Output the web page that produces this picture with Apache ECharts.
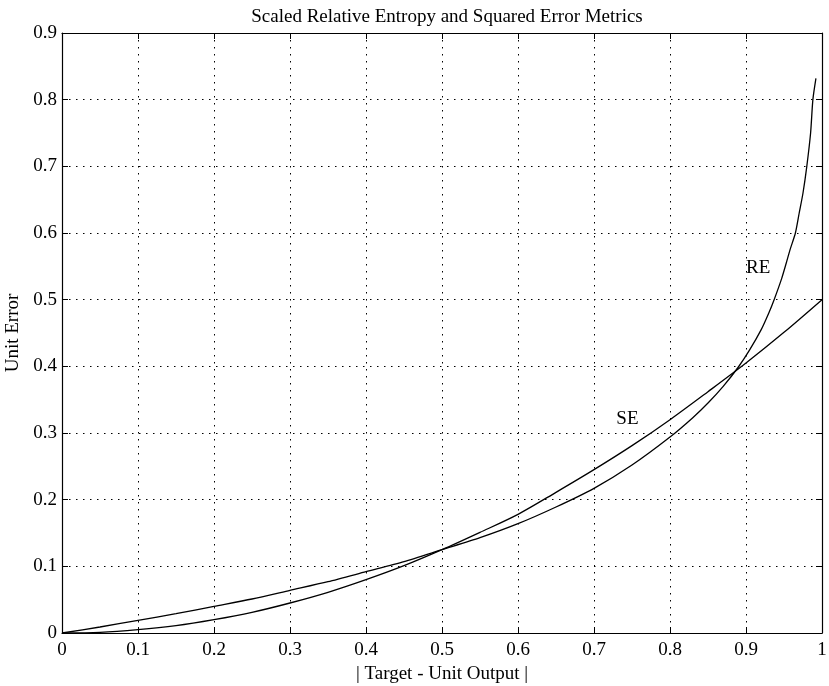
<!DOCTYPE html>
<html>
<head>
<meta charset="utf-8">
<title>Scaled Relative Entropy and Squared Error Metrics</title>
<script src="https://cdn.jsdelivr.net/npm/echarts@6/dist/echarts.min.js"></script>
<style>
  html, body { margin: 0; padding: 0; background: #fff; }
  #chart { width: 829px; height: 686px; }
</style>
</head>
<body>
<div id="chart"></div>
<script>
// values
var reX = [0, 0.05, 0.1, 0.15, 0.2, 0.25, 0.3, 0.35, 0.4, 0.45, 0.5, 0.55, 0.6, 0.65, 0.7, 0.75, 0.8, 0.83, 0.85, 0.87, 0.89, 0.905, 0.92, 0.93, 0.937, 0.947, 0.953, 0.958, 0.965, 0.97, 0.975, 0.98, 0.985, 0.988, 0.992];
var reY = [0, 0.009, 0.019, 0.029, 0.040, 0.051, 0.064, 0.077, 0.092, 0.107, 0.125, 0.143, 0.164, 0.189, 0.217, 0.252, 0.294, 0.323, 0.345, 0.37, 0.399, 0.425, 0.455, 0.48, 0.5, 0.532, 0.555, 0.575, 0.6, 0.63, 0.66, 0.7, 0.75, 0.8, 0.832];

var seX = [0, 0.05, 0.1, 0.15, 0.2, 0.25, 0.3, 0.35, 0.4, 0.45, 0.5, 0.55, 0.6, 0.65, 0.7, 0.75, 0.8, 0.85, 0.9, 0.95, 1];
var seY = [0, 0.001, 0.005, 0.011, 0.020, 0.031, 0.045, 0.061, 0.080, 0.101, 0.125, 0.151, 0.178, 0.211, 0.245, 0.281, 0.320, 0.362, 0.405, 0.451, 0.5];

// curve labels: [x, y, text]
var curveLabels = [
  [0.916, 0.547, 'RE'],
  [0.744, 0.321, 'SE']
];

function pairs(xs, ys) {
  var out = [];
  for (var i = 0; i < xs.length; i++) out.push([xs[i], ys[i]]);
  return out;
}

var font = 'Liberation Serif';
var chart = echarts.init(document.getElementById('chart'));

var gridLine = { show: true, lineStyle: { color: '#000', width: 1, type: [1.5, 5.5] } };
var frameLine = { show: true, onZero: false, lineStyle: { color: '#000', width: 1.2 } };
var tick = { show: true, inside: true, length: 6, lineStyle: { color: '#000', width: 1 } };

chart.setOption({
  backgroundColor: '#fff',
  animation: false,
  title: {
    text: 'Scaled Relative Entropy and Squared Error Metrics',
    left: 442, top: 3, textAlign: 'center',
    textStyle: { fontFamily: font, fontSize: 19, fontWeight: 'normal', color: '#000' }
  },
  grid: { left: 62, right: 7, top: 33, bottom: 53, containLabel: false, outerBoundsMode: 'none' },
  xAxis: [
    {
      type: 'value', min: 0, max: 1, interval: 0.1,
      name: '| Target - Unit Output |', nameLocation: 'middle', nameGap: 27,
      nameTextStyle: { fontFamily: font, fontSize: 19, color: '#000' },
      axisLine: frameLine, axisTick: tick, splitLine: gridLine,
      axisLabel: { fontFamily: font, fontSize: 19, color: '#000', margin: 8 }
    },
    {
      type: 'value', min: 0, max: 1, interval: 0.1, position: 'top',
      axisLine: frameLine, axisTick: tick, splitLine: { show: false },
      axisLabel: { show: false }
    }
  ],
  yAxis: [
    {
      type: 'value', min: 0, max: 0.9, interval: 0.1,
      name: 'Unit Error', nameLocation: 'middle', nameGap: 38,
      nameTextStyle: { fontFamily: font, fontSize: 19, color: '#000' },
      axisLine: frameLine, axisTick: tick, splitLine: gridLine,
      axisLabel: { fontFamily: font, fontSize: 19, color: '#000', margin: 5 }
    },
    {
      type: 'value', min: 0, max: 0.9, interval: 0.1, position: 'right',
      axisLine: frameLine, axisTick: tick, splitLine: { show: false },
      axisLabel: { show: false }
    }
  ],
  series: [
    {
      name: 'RE', type: 'line', data: pairs(reX, reY),
      showSymbol: false, smooth: 0.25,
      lineStyle: { color: '#000', width: 1.3 }
    },
    {
      name: 'SE', type: 'line', data: pairs(seX, seY),
      showSymbol: false, smooth: 0.3,
      lineStyle: { color: '#000', width: 1.3 }
    },
    {
      name: 'labels', type: 'scatter', symbolSize: 0, silent: true,
      itemStyle: { opacity: 1 },
      data: curveLabels.map(function (d) { return { value: [d[0], d[1]], name: d[2] }; }),
      label: {
        show: true, position: 'inside', formatter: '{b}', opacity: 1,
        fontFamily: font, fontSize: 19, color: '#000', textBorderWidth: 0
      }
    }
  ]
});
</script>
</body>
</html>
